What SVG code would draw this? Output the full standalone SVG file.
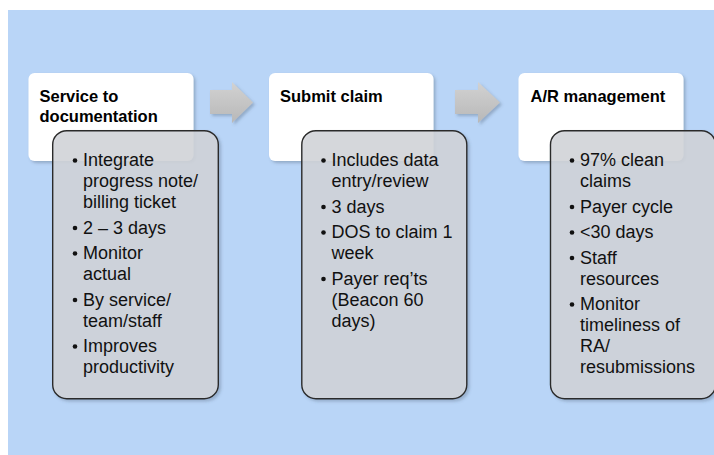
<svg xmlns="http://www.w3.org/2000/svg" width="714" height="455" viewBox="0 0 714 455">
  <defs>
    <style>
      .bg { fill: #b9d5f7; }
      .head { fill: #ffffff; filter: url(#soft); }
      .body { fill: #d3d6db; fill-opacity: 0.85; stroke: #2b2b2b; stroke-width: 1.4; filter: url(#soft); }
      .step { fill: url(#arrowFill); filter: url(#soft); }
      .title { font-family: "Liberation Sans", Arial, sans-serif; font-weight: bold; font-size: 16.5px; fill: #000; }
      .item { font-family: "Liberation Sans", Arial, sans-serif; font-size: 18px; fill: #111; }
      .dot { fill: #111; }
    </style>
    <filter id="soft" x="-10%" y="-10%" width="125%" height="125%">
      <feDropShadow dx="2" dy="2" stdDeviation="1.8" flood-color="#4a5a70" flood-opacity="0.35"/>
    </filter>
    <linearGradient id="arrowFill" x1="0" y1="0" x2="0" y2="1">
      <stop offset="0" stop-color="#d2d2d2"/>
      <stop offset="1" stop-color="#b8b8b8"/>
    </linearGradient>
  </defs>

  <rect class="bg" x="8" y="10" width="706" height="445"/>

  <!-- connectors between the stages -->
  <g id="connectors">
    <path class="step" d="M210,90 H232 V82 L253,102.5 L232,123 V114 H210 Z"/>
    <path class="step" d="M455,90 H478 V82 L500,102.5 L478,123 V114 H455 Z"/>
  </g>

  <!-- stage 1 -->
  <g id="stage-service">
    <rect class="head" x="28.5" y="73" width="165" height="88" rx="6"/>
    <text class="title" x="39.5" y="101.5">Service to</text>
    <text class="title" x="39.5" y="121.5">documentation</text>
    <rect class="body" x="52.7" y="130.7" width="165.6" height="268" rx="14"/>
    <g class="item">
      <circle class="dot" cx="75" cy="160.5" r="2.3"/>
      <text class="item" x="83" y="166">Integrate</text>
      <text class="item" x="83" y="187">progress note/</text>
      <text class="item" x="83" y="208">billing ticket</text>
      <circle class="dot" cx="75" cy="228" r="2.3"/>
      <text class="item" x="83" y="233.5">2 – 3 days</text>
      <circle class="dot" cx="75" cy="253.5" r="2.3"/>
      <text class="item" x="83" y="259">Monitor</text>
      <text class="item" x="83" y="280">actual</text>
      <circle class="dot" cx="75" cy="300" r="2.3"/>
      <text class="item" x="83" y="305.5">By service/</text>
      <text class="item" x="83" y="326.5">team/staff</text>
      <circle class="dot" cx="75" cy="346.5" r="2.3"/>
      <text class="item" x="83" y="352">Improves</text>
      <text class="item" x="83" y="373">productivity</text>
    </g>
  </g>

  <!-- stage 2 -->
  <g id="stage-submit">
    <rect class="head" x="269" y="73" width="164.5" height="88" rx="6"/>
    <text class="title" x="280" y="101.5">Submit claim</text>
    <rect class="body" x="301.8" y="130.7" width="165" height="268" rx="14"/>
    <g class="item">
      <circle class="dot" cx="323.5" cy="160.5" r="2.3"/>
      <text class="item" x="331.5" y="166">Includes data</text>
      <text class="item" x="331.5" y="187">entry/review</text>
      <circle class="dot" cx="323.5" cy="207" r="2.3"/>
      <text class="item" x="331.5" y="212.5">3 days</text>
      <circle class="dot" cx="323.5" cy="232.5" r="2.3"/>
      <text class="item" x="331.5" y="238">DOS to claim 1</text>
      <text class="item" x="331.5" y="259">week</text>
      <circle class="dot" cx="323.5" cy="279" r="2.3"/>
      <text class="item" x="331.5" y="284.5">Payer req’ts</text>
      <text class="item" x="331.5" y="305.5">(Beacon 60</text>
      <text class="item" x="331.5" y="326.5">days)</text>
    </g>
  </g>

  <!-- stage 3 -->
  <g id="stage-ar">
    <rect class="head" x="518.5" y="73" width="165" height="88" rx="6"/>
    <text class="title" x="530.5" y="101.5">A/R management</text>
    <rect class="body" x="550.5" y="130.7" width="165" height="268" rx="14"/>
    <g class="item">
      <circle class="dot" cx="572" cy="160.5" r="2.3"/>
      <text class="item" x="580" y="166">97% clean</text>
      <text class="item" x="580" y="187">claims</text>
      <circle class="dot" cx="572" cy="207" r="2.3"/>
      <text class="item" x="580" y="212.5">Payer cycle</text>
      <circle class="dot" cx="572" cy="232.5" r="2.3"/>
      <text class="item" x="580" y="238">&lt;30 days</text>
      <circle class="dot" cx="572" cy="258" r="2.3"/>
      <text class="item" x="580" y="263.5">Staff</text>
      <text class="item" x="580" y="284.5">resources</text>
      <circle class="dot" cx="572" cy="304.5" r="2.3"/>
      <text class="item" x="580" y="310">Monitor</text>
      <text class="item" x="580" y="331">timeliness of</text>
      <text class="item" x="580" y="352">RA/</text>
      <text class="item" x="580" y="373">resubmissions</text>
    </g>
  </g>
</svg>
